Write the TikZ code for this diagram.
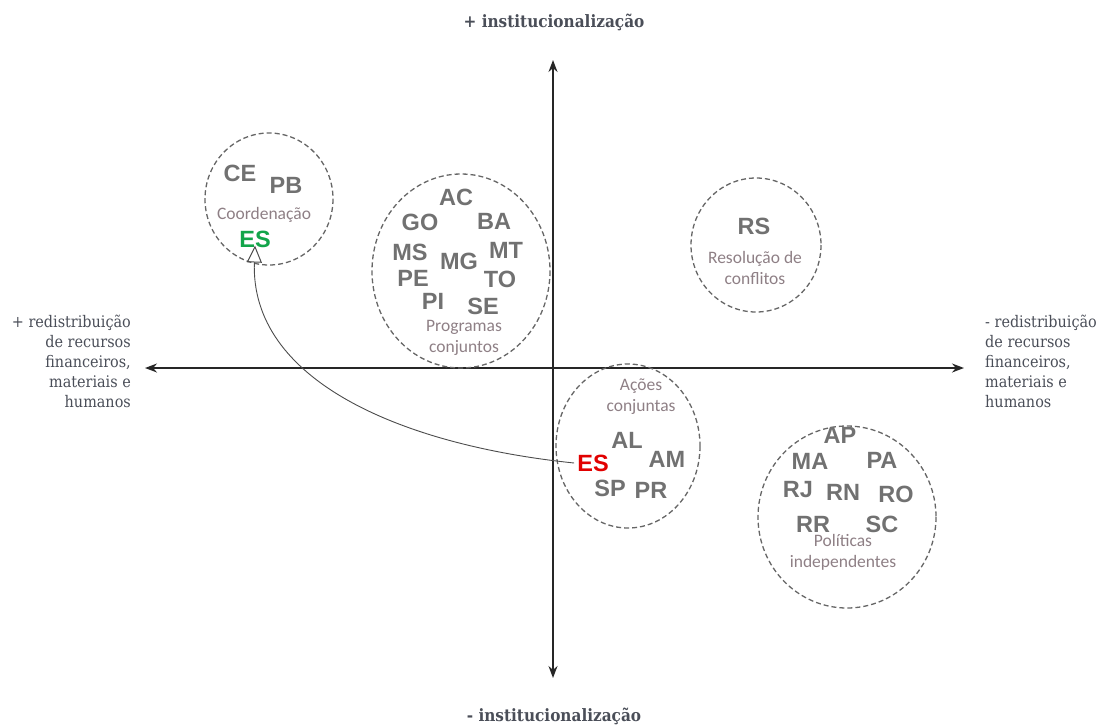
\documentclass[tikz,border=0pt]{standalone}
\usepackage{fontspec}
\setmainfont{DejaVu Serif}
\newfontfamily\statefont{Liberation Sans}
\newfontfamily\labfont{Carlito}
\newfontfamily\axfont{DejaVu Serif Condensed}
\usetikzlibrary{arrows.meta}
\definecolor{stgray}{HTML}{717171}
\definecolor{labcol}{HTML}{8E7F85}
\definecolor{axcol}{HTML}{4A4E58}
\definecolor{esgreen}{HTML}{12A54A}
\definecolor{esred}{HTML}{E10000}
\definecolor{circcol}{HTML}{666666}
\begin{document}
\begin{tikzpicture}[x=1pt,y=-1pt,
  st/.style={font=\statefont\bfseries\fontsize{23.5}{24}\selectfont, text=stgray, inner sep=0pt},
  grp/.style={font=\labfont\fontsize{17.5}{21}\selectfont, text=labcol, align=center, inner sep=0pt},
  circ/.style={draw=circcol, dashed, dash pattern=on 5pt off 3pt, line width=1.3pt},
  axis/.style={draw=black!85, line width=1.5pt, -{Stealth[length=12pt,width=9pt]}},
  axlab/.style={font=\axfont\fontsize{16}{20}\selectfont, text=axcol, inner sep=0pt},
  toplab/.style={font=\axfont\bfseries\fontsize{17}{18}\selectfont, text=axcol, inner sep=0pt}]
\useasboundingbox (0,0) rectangle (1105,726);
% axes
\coordinate (o) at (553,368);
\coordinate (top) at (553,60);
\coordinate (bot) at (553,678);
\coordinate (lft) at (145,368);
\coordinate (rgt) at (964,368);
\draw[axis] (o) -- (top);
\draw[axis] (o) -- (bot);
\draw[axis] (o) -- (lft);
\draw[axis] (o) -- (rgt);
\node[toplab] (tl) at (554,22) {+ institucionalização};
\node[toplab] (bl) at (554,716) {- institucionalização};
\node[axlab, align=right, anchor=north east] (ll) at (131,315) {+ redistribuição\\de recursos\\financeiros,\\materiais e\\humanos};
\node[axlab, align=left, anchor=north west] (rl) at (985,315) {- redistribuição\\de recursos\\financeiros,\\materiais e\\humanos};
% circles
\draw[circ] (269,199) ellipse [x radius=64, y radius=66];
\draw[circ] (461,271) ellipse [x radius=89, y radius=97];
\draw[circ] (756,245) ellipse [x radius=65, y radius=67];
\draw[circ] (628,446) ellipse [x radius=72, y radius=82];
\draw[circ] (847,517) ellipse [x radius=89, y radius=91];
% Coordenacao
\node[st] (ce) at (240,173) {CE};
\node[st] (pb) at (286,185) {PB};
\node[grp] (coord) at (264,215) {Coordenação};
\node[st, text=esgreen] (esg) at (255,239) {ES};
% Programas conjuntos
\node[st] (ac) at (456,197) {AC};
\node[st] (go) at (420,222) {GO};
\node[st] (ba) at (494,221) {BA};
\node[st] (ms) at (410,252) {MS};
\node[st] (mt) at (506,250) {MT};
\node[st] (mg) at (459,261) {MG};
\node[st] (pe) at (413,278) {PE};
\node[st] (to) at (500,279) {TO};
\node[st] (pi) at (433,301) {PI};
\node[st] (se) at (483,306) {SE};
\node[grp] (prog) at (464,338) {Programas\\conjuntos};
% Resolucao
\node[st] (rs) at (754,226) {RS};
\node[grp] (res) at (755,268) {Resolução de\\conflitos};
% Acoes conjuntas
\node[grp] (acoes) at (641,397) {Ações\\conjuntas};
\node[st] (al) at (627,440) {AL};
\node[st] (am) at (667,459) {AM};
\node[st, text=esred] (esr) at (593,463) {ES};
\node[st] (sp) at (610,488) {SP};
\node[st] (pr) at (651,490) {PR};
% Politicas independentes
\node[st] (ap) at (840,435) {AP};
\node[st] (ma) at (810,461) {MA};
\node[st] (pa) at (882,460) {PA};
\node[st] (rj) at (798,490) {RJ};
\node[st] (rn) at (843,492) {RN};
\node[st] (ro) at (896,494) {RO};
\node[st] (rr) at (813,524) {RR};
\node[st] (sc) at (882,524) {SC};
\node[grp] (pol) at (843,552) {Políticas\\independentes};
% curved arrow
\coordinate (cs) at ([xshift=-3pt]esr.west);
\coordinate (ce2) at ([yshift=2pt]esg.south);
\draw[draw=black!70, line width=0.9pt, -{Triangle[open, length=17pt, width=15pt, line width=1pt]}]
  (cs) .. controls (400,445) and (250,380) .. (ce2);
\end{tikzpicture}
\end{document}
